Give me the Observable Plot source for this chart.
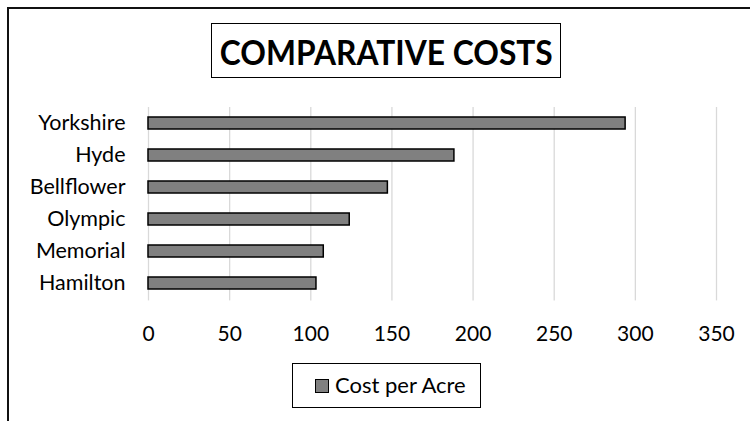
<!DOCTYPE html>
<html>
<head>
<meta charset="utf-8">
<script src="https://cdn.jsdelivr.net/npm/d3@7"></script>
<script src="https://cdn.jsdelivr.net/npm/@observablehq/plot@0.6"></script>
<style>
  html, body { margin: 0; padding: 0; background: #fff; }
  body { width: 750px; height: 421px; position: relative; overflow: hidden; font-family: Lato, "Open Sans", sans-serif; color: #000; }
  #frame { position: absolute; left: 7px; top: 7px; width: 900px; height: 600px; border: 2px solid #111; box-sizing: border-box; }
  #title { position: absolute; left: 211px; top: 23px; width: 350px; height: 55px; border: 1.5px solid #000; box-sizing: border-box;
           display: flex; align-items: center; justify-content: center; font-weight: bold; font-size: 34px; white-space: nowrap; padding-top: 2px; }
  #title span { display: inline-block; }
  #chart { position: absolute; left: 0; top: 85px; }
  #legend { position: absolute; left: 292px; top: 363px; width: 189px; height: 45px; border: 1.5px solid #000; box-sizing: border-box; }
  #legend .sw { position: absolute; left: 22px; top: 15px; width: 14px; height: 14px; background: #808080; border: 1.5px solid #000; box-sizing: border-box; }
  #legend .lab { position: absolute; left: 42px; top: 7px; font-size: 22px; line-height: 28px; white-space: nowrap; }
</style>
</head>
<body>
<div id="frame"></div>
<div id="title"><span>COMPARATIVE COSTS</span></div>
<div id="chart"></div>
<div id="legend"><div class="sw"></div><div class="lab">Cost per Acre</div></div>
<script>
const categories = ["Yorkshire", "Hyde", "Bellflower", "Olympic", "Memorial", "Hamilton"];
const costPerAcre = [294, 188.5, 147.5, 124, 108, 103.5];
const xTicks = [0, 50, 100, 150, 200, 250, 300, 350];

const data = categories.map((name, i) => ({name, value: costPerAcre[i]}));

const chart = Plot.plot({
  width: 750,
  height: 270,
  marginLeft: 148,
  marginRight: 34,
  marginTop: 22,
  marginBottom: 54.6,
  style: {fontFamily: "Lato, 'Open Sans', sans-serif", fontSize: "21px", color: "#000", background: "transparent"},
  x: {domain: [0, 350]},
  y: {domain: categories, paddingInner: 0.61, paddingOuter: 0.3},
  marks: [
    Plot.ruleX(xTicks, {stroke: "#d9d9d9", strokeWidth: 1.3}),
    Plot.barX(data, {x: "value", y: "name", fill: "#808080", stroke: "#000", strokeWidth: 1.5}),
    Plot.axisX({ticks: xTicks, tickSize: 0, tickPadding: 25, label: null, fontSize: 21}),
    Plot.axisY({tickSize: 0, tickPadding: 23, label: null, fontSize: 21.5})
  ]
});
document.getElementById("chart").appendChild(chart);

// fit title text width to reference (~333px)
const sp = document.querySelector("#title span");
const w = sp.getBoundingClientRect().width;
if (w > 0) sp.style.transform = `scaleX(${333 / w})`;
</script>
</body>
</html>
